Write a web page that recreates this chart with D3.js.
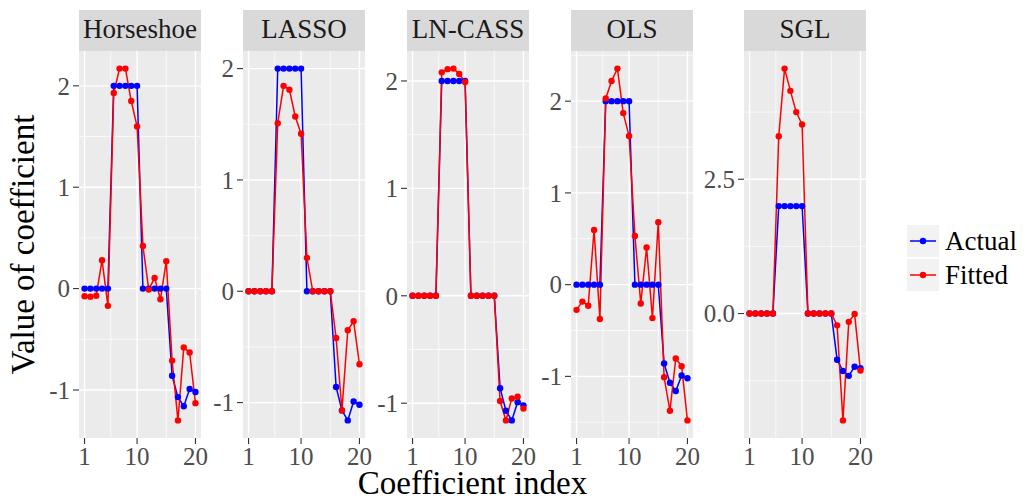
<!DOCTYPE html>
<html>
<head>
<meta charset="utf-8">
<script src="https://cdn.jsdelivr.net/npm/d3@7"></script>
<style>
  body { margin: 0; background: #fff; }
  text { font-family: "Liberation Serif", "DejaVu Serif", serif; }
</style>
</head>
<body>
<div id="chart"></div>
<script>
// Faceted coefficient plot: actual vs fitted, one panel per method

const coefIndex = [1, 2, 3, 4, 5, 6, 7, 8, 9, 10, 11, 12, 13, 14, 15, 16, 17, 18, 19, 20]
const methods = ["Horseshoe", "LASSO", "LN-CASS", "OLS", "SGL"]

const actualValues = [0, 0, 0, 0, 0, 2, 2, 2, 2, 2, 0, 0, 0, 0, 0,
  -0.86, -1.07, -1.16, -0.99, -1.02]

const fittedHorseshoe = [-0.075, -0.08, -0.07, 0.28, -0.17, 1.93, 2.17, 2.17, 1.85, 1.6,
  0.42, -0.01, 0.105, -0.105, 0.27, -0.71, -1.3, -0.58, -0.63, -1.13]
const fittedLasso = [0, 0, 0, 0, 0, 1.51, 1.845, 1.81, 1.57, 1.415,
  0.3, 0, 0, 0, 0, -0.42, -1.07, -0.35, -0.27, -0.655]
const fittedLncass = [0, 0, 0, 0, 0, 2.08, 2.11, 2.115, 2.065, 1.99,
  0, 0, 0, 0, 0, -0.98, -1.16, -0.955, -0.94, -1.05]
const fittedOls = [-0.275, -0.185, -0.23, 0.595, -0.375, 2.03, 2.22, 2.355, 1.87, 1.62,
  0.53, -0.205, 0.405, -0.365, 0.68, -1.01, -1.375, -0.805, -0.89, -1.48]
const fittedSgl = [0, 0, 0, 0, 0, 3.3, 4.56, 4.146, 3.75, 3.52,
  0, 0, 0, 0, 0, -0.22, -1.99, -0.155, -0.01, -1.06]
const fittedByMethod = [fittedHorseshoe, fittedLasso, fittedLncass, fittedOls, fittedSgl]

const xTicks = [1, 10, 20]
const yTicksByMethod = [[-1, 0, 1, 2], [-1, 0, 1, 2], [-1, 0, 1, 2], [-1, 0, 1, 2], [0, 2.5]]
const yTickLabelsByMethod = [["-1", "0", "1", "2"], ["-1", "0", "1", "2"],
  ["-1", "0", "1", "2"], ["-1", "0", "1", "2"], ["0.0", "2.5"]]

const seriesNames = ["Actual", "Fitted"]
const seriesColors = ["#0000ff", "#ff0000"]

// LAYOUT
const WIDTH = 1025
const HEIGHT = 504
const PANEL_LEFT = [79, 243, 407, 571, 744]
const PANEL_W = 122
const STRIP_TOP = 10
const PANEL_TOP = 51
const PANEL_BOTTOM = 438
const TICK_LEN = 6

const svg = d3.select("#chart")
  .append("svg")
    .attr("width", WIDTH)
    .attr("height", HEIGHT)

// ggplot style 5% expansion
function expand(ext) {
  const pad = (ext[1] - ext[0]) * 0.05
  return [ext[0] - pad, ext[1] + pad]
}

function minorTicks(major, domain) {
  const step = major.length > 1 ? major[1] - major[0] : 1
  const out = []
  for (let i = -1; i < major.length; i++) {
    const a = i < 0 ? major[0] - step : major[i]
    const b = i + 1 < major.length ? major[i + 1] : major[i] + step
    const m = (a + b) / 2
    if (m > domain[0] && m < domain[1]) out.push(m)
  }
  return out
}

const xScale = d3.scaleLinear()
  .domain(expand(d3.extent(coefIndex)))
  .range([0, PANEL_W])

const xMinor = minorTicks([1, 10, 20], xScale.domain()).filter(v => v > 1 && v < 20)

methods.forEach((method, m) => {
  const fitted = fittedByMethod[m]
  const yScale = d3.scaleLinear()
    .domain(expand(d3.extent(actualValues.concat(fitted))))
    .range([PANEL_BOTTOM, PANEL_TOP])

  const g = svg.append("g")
    .attr("transform", "translate(" + PANEL_LEFT[m] + ",0)")

  // strip
  g.append("rect")
    .attr("x", 0).attr("y", STRIP_TOP)
    .attr("width", PANEL_W).attr("height", PANEL_TOP - STRIP_TOP)
    .attr("fill", "#d9d9d9")
  g.append("text")
    .attr("x", PANEL_W / 2).attr("y", 38)
    .attr("text-anchor", "middle")
    .attr("font-size", 27)
    .attr("fill", "#1a1a1a")
    .text(method)

  // panel background
  g.append("rect")
    .attr("x", 0).attr("y", PANEL_TOP)
    .attr("width", PANEL_W).attr("height", PANEL_BOTTOM - PANEL_TOP)
    .attr("fill", "#ebebeb")

  const yMajor = yTicksByMethod[m]
  const yMinor = minorTicks(yMajor, yScale.domain())

  // minor grid
  g.selectAll("myYMinor").data(yMinor).enter().append("line")
    .attr("x1", 0).attr("x2", PANEL_W)
    .attr("y1", d => yScale(d)).attr("y2", d => yScale(d))
    .attr("stroke", "#fff").attr("stroke-width", 0.7)
  g.selectAll("myXMinor").data(xMinor).enter().append("line")
    .attr("y1", PANEL_TOP).attr("y2", PANEL_BOTTOM)
    .attr("x1", d => xScale(d)).attr("x2", d => xScale(d))
    .attr("stroke", "#fff").attr("stroke-width", 0.7)

  // major grid
  g.selectAll("myYMajor").data(yMajor).enter().append("line")
    .attr("x1", 0).attr("x2", PANEL_W)
    .attr("y1", d => yScale(d)).attr("y2", d => yScale(d))
    .attr("stroke", "#fff").attr("stroke-width", 1.4)
  g.selectAll("myXMajor").data(xTicks).enter().append("line")
    .attr("y1", PANEL_TOP).attr("y2", PANEL_BOTTOM)
    .attr("x1", d => xScale(d)).attr("x2", d => xScale(d))
    .attr("stroke", "#fff").attr("stroke-width", 1.4)

  // y axis ticks + labels
  g.selectAll("myYTicks").data(yMajor).enter().append("line")
    .attr("x1", -TICK_LEN).attr("x2", 0)
    .attr("y1", d => yScale(d)).attr("y2", d => yScale(d))
    .attr("stroke", "#333").attr("stroke-width", 1.1)
  g.selectAll("myYLabels").data(yMajor).enter().append("text")
    .attr("x", -TICK_LEN - 3)
    .attr("y", d => yScale(d))
    .attr("dy", "0.35em")
    .attr("text-anchor", "end")
    .attr("font-size", 25)
    .attr("fill", "#4d4d4d")
    .text((d, i) => yTickLabelsByMethod[m][i])

  // x axis ticks + labels
  g.selectAll("myXTicks").data(xTicks).enter().append("line")
    .attr("y1", PANEL_BOTTOM).attr("y2", PANEL_BOTTOM + TICK_LEN)
    .attr("x1", d => xScale(d)).attr("x2", d => xScale(d))
    .attr("stroke", "#333").attr("stroke-width", 1.1)
  g.selectAll("myXLabels").data(xTicks).enter().append("text")
    .attr("x", d => xScale(d))
    .attr("y", 465)
    .attr("text-anchor", "middle")
    .attr("font-size", 25)
    .attr("fill", "#4d4d4d")
    .text(d => d)

  // series: lines first, then points
  const series = [actualValues, fitted]
  const line = d3.line()
    .x((d, i) => xScale(coefIndex[i]))
    .y(d => yScale(d))
  series.forEach((vals, s) => {
    g.append("path")
      .attr("d", line(vals))
      .attr("fill", "none")
      .attr("stroke", seriesColors[s])
      .attr("stroke-width", 1.5)
  })
  series.forEach((vals, s) => {
    g.selectAll("myPoints" + s).data(vals).enter().append("circle")
      .attr("cx", (d, i) => xScale(coefIndex[i]))
      .attr("cy", d => yScale(d))
      .attr("r", 3.2)
      .attr("fill", seriesColors[s])
  })
})

// axis titles
svg.append("text")
  .attr("x", (PANEL_LEFT[0] + PANEL_LEFT[4] + PANEL_W) / 2)
  .attr("y", 494)
  .attr("text-anchor", "middle")
  .attr("font-size", 33)
  .attr("fill", "#000")
  .text("Coefficient index")

svg.append("text")
  .attr("transform", "translate(34," + (PANEL_TOP + PANEL_BOTTOM) / 2 + ") rotate(-90)")
  .attr("text-anchor", "middle")
  .attr("font-size", 33)
  .attr("fill", "#000")
  .text("Value of coefficient")

// legend
const KEY_X = 907, KEY_Y = 225, KEY_SIZE = 32, KEY_GAP = 2
const legend = svg.selectAll("myLegend").data(seriesNames).enter().append("g")
  .attr("transform", (d, i) => "translate(" + KEY_X + "," + (KEY_Y + i * (KEY_SIZE + KEY_GAP)) + ")")
legend.append("rect")
  .attr("width", KEY_SIZE).attr("height", KEY_SIZE)
  .attr("fill", "#f2f2f2")
legend.append("line")
  .attr("x1", 3).attr("x2", KEY_SIZE - 3)
  .attr("y1", KEY_SIZE / 2).attr("y2", KEY_SIZE / 2)
  .attr("stroke", (d, i) => seriesColors[i])
  .attr("stroke-width", 1.5)
legend.append("circle")
  .attr("cx", KEY_SIZE / 2).attr("cy", KEY_SIZE / 2)
  .attr("r", 3.2)
  .attr("fill", (d, i) => seriesColors[i])
legend.append("text")
  .attr("x", KEY_SIZE + 6)
  .attr("y", KEY_SIZE / 2)
  .attr("dy", "0.35em")
  .attr("font-size", 27)
  .attr("fill", "#000")
  .text(d => d)
</script>
</body>
</html>
